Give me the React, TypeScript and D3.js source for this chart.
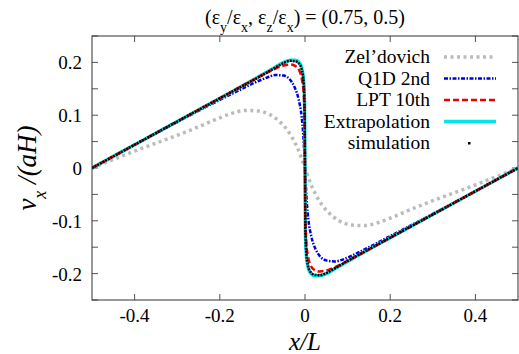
import React from "react";
import * as d3 from "d3";

// ---- data ----
const xTicks = [-0.4, -0.2, 0, 0.2, 0.4];
const yTicks = [-0.2, -0.1, 0, 0.1, 0.2];
const yMinorTicks = [-0.25, -0.2, -0.15, -0.1, -0.05, 0, 0.05, 0.1, 0.15, 0.2, 0.25];

const zelX = [-0.5, -0.45, -0.4, -0.35, -0.3, -0.25, -0.2, -0.17, -0.14, -0.11, -0.08, -0.06, -0.04, -0.025, -0.012, 0, 0.012, 0.025, 0.04, 0.06, 0.08, 0.11, 0.14, 0.17, 0.2, 0.25, 0.3, 0.35, 0.4, 0.45, 0.5];
const zelV = [0, 0.016, 0.032, 0.047, 0.062, 0.078, 0.095, 0.104, 0.109, 0.108, 0.1, 0.088, 0.07, 0.05, 0.027, 0, -0.027, -0.05, -0.07, -0.088, -0.1, -0.108, -0.109, -0.104, -0.095, -0.078, -0.062, -0.047, -0.032, -0.016, 0];

const q1dX = [-0.5, -0.4, -0.3, -0.2, -0.15, -0.12, -0.09, -0.07, -0.05, -0.035, -0.025, -0.015, -0.008, -0.004, 0, 0.004, 0.008, 0.015, 0.025, 0.035, 0.05, 0.07, 0.09, 0.12, 0.15, 0.2, 0.3, 0.4, 0.5];
const q1dV = [0, 0.044, 0.087, 0.129, 0.149, 0.161, 0.171, 0.176, 0.175, 0.167, 0.154, 0.13, 0.098, 0.062, 0, -0.062, -0.098, -0.13, -0.154, -0.167, -0.175, -0.177, -0.173, -0.162, -0.15, -0.129, -0.087, -0.044, 0];

const lptX = [-0.5, -0.4, -0.3, -0.2, -0.1, -0.07, -0.05, -0.035, -0.022, -0.013, -0.007, -0.003, -0.001, 0, 0.001, 0.003, 0.007, 0.013, 0.022, 0.035, 0.05, 0.07, 0.1, 0.2, 0.3, 0.4, 0.5];
const lptV = [0, 0.044, 0.088, 0.132, 0.176, 0.188, 0.194, 0.196, 0.193, 0.184, 0.167, 0.14, 0.1, 0, -0.1, -0.14, -0.167, -0.184, -0.193, -0.196, -0.194, -0.188, -0.176, -0.132, -0.088, -0.044, 0];

const extX = [-0.5, -0.4, -0.3, -0.2, -0.1, -0.07, -0.05, -0.035, -0.022, -0.013, -0.007, -0.003, -0.001, 0, 0.001, 0.003, 0.007, 0.013, 0.022, 0.035, 0.05, 0.07, 0.1, 0.2, 0.3, 0.4, 0.5];
const extV = [0, 0.044, 0.088, 0.132, 0.177, 0.191, 0.2, 0.204, 0.204, 0.199, 0.187, 0.163, 0.12, 0, -0.12, -0.163, -0.187, -0.199, -0.204, -0.204, -0.2, -0.191, -0.177, -0.132, -0.088, -0.044, 0];

const simX = [-0.5, -0.4, -0.3, -0.2, -0.1, -0.07, -0.05, -0.035, -0.022, -0.013, -0.007, -0.003, -0.001, 0, 0.001, 0.003, 0.007, 0.013, 0.022, 0.035, 0.05, 0.07, 0.1, 0.2, 0.3, 0.4, 0.5];
const simV = [0, 0.044, 0.088, 0.132, 0.176, 0.19, 0.199, 0.203, 0.202, 0.197, 0.185, 0.16, 0.118, 0, -0.118, -0.16, -0.185, -0.197, -0.202, -0.203, -0.199, -0.19, -0.176, -0.132, -0.088, -0.044, 0];

const legendLabels = ["Zel\u2019dovich", "Q1D 2nd", "LPT 10th", "Extrapolation", "simulation"];

const W = 519, H = 354;
const M = { left: 92, right: 518, top: 36, bottom: 300 };

export default function App() {
  const x = d3.scaleLinear().domain([-0.5, 0.5]).range([M.left, M.right]);
  const y = d3.scaleLinear().domain([-0.25, 0.25]).range([M.bottom, M.top]);
  const line = d3
    .line<[number, number]>()
    .x((d) => x(d[0]))
    .y((d) => y(d[1]))
    .curve(d3.curveMonotoneX);
  const zip = (a: number[], b: number[]) => a.map((v, i) => [v, b[i]] as [number, number]);

  const styles = [
    { stroke: "#bbbbbb", width: 3.5, dash: "3 3.5" },
    { stroke: "#0000dd", width: 2.5, dash: "4 1.5 1.5 1.5" },
    { stroke: "#ee0000", width: 2.5, dash: "6 3" },
    { stroke: "#00e5ee", width: 3.5, dash: "" },
    { stroke: "#000000", width: 2.5, dash: "2 1" },
  ];

  const legY0 = 57;
  const legDy = 21.5;
  const fmt = (t: number) => (t === 0 ? "0" : d3.format(".1f")(t).replace("\u2212", "-"));
  const ff = "Liberation Serif";

  return (
    <svg width={W} height={H} style={{ position: "absolute", left: 0, top: 0 }}>
      <text x={305} y={24} textAnchor="middle" fontSize={20} style={{ fontFamily: `"${ff}"` }}>
        (ε<tspan baselineShift="sub" fontSize={14}>y</tspan>/ε<tspan baselineShift="sub" fontSize={14}>x</tspan>, ε<tspan baselineShift="sub" fontSize={14}>z</tspan>/ε<tspan baselineShift="sub" fontSize={14}>x</tspan>) = (0.75, 0.5)
      </text>

      <defs>
        <clipPath id="plotclip">
          <rect x={M.left} y={M.top} width={M.right - M.left} height={M.bottom - M.top} />
        </clipPath>
      </defs>

      {/* ticks */}
      {xTicks.map((t) => (
        <g key={"xt" + t}>
          <line x1={x(t)} x2={x(t)} y1={M.bottom} y2={M.bottom - 6} stroke="#555" strokeWidth={1} />
          <line x1={x(t)} x2={x(t)} y1={M.top} y2={M.top + 6} stroke="#555" strokeWidth={1} />
          <text x={x(t)} y={M.bottom + 22} textAnchor="middle" fontSize={19} style={{ fontFamily: `"${ff}"` }}>
            {fmt(t)}
          </text>
        </g>
      ))}
      {yMinorTicks.map((t) => (
        <g key={"ym" + t}>
          <line x1={M.left} x2={M.left + 6} y1={y(t)} y2={y(t)} stroke="#555" strokeWidth={1} />
          <line x1={M.right} x2={M.right - 6} y1={y(t)} y2={y(t)} stroke="#555" strokeWidth={1} />
        </g>
      ))}
      {yTicks.map((t) => (
        <text key={"yt" + t} x={M.left - 10} y={y(t) + 7} textAnchor="end" fontSize={19} style={{ fontFamily: `"${ff}"` }}>
          {fmt(t)}
        </text>
      ))}

      {/* curves */}
      <g clipPath="url(#plotclip)" fill="none">
        <path d={line(zip(zelX, zelV)) || ""} stroke={styles[0].stroke} strokeWidth={styles[0].width} strokeDasharray={styles[0].dash} />
        <path d={line(zip(q1dX, q1dV)) || ""} stroke={styles[1].stroke} strokeWidth={styles[1].width} strokeDasharray={styles[1].dash} />
        <path d={line(zip(extX, extV)) || ""} stroke={styles[3].stroke} strokeWidth={styles[3].width} />
        <path d={line(zip(lptX, lptV)) || ""} stroke={styles[2].stroke} strokeWidth={styles[2].width} strokeDasharray={styles[2].dash} />
        <path d={line(zip(simX, simV)) || ""} stroke={styles[4].stroke} strokeWidth={styles[4].width} strokeDasharray={styles[4].dash} />
      </g>

      {/* frame */}
      <rect x={M.left} y={M.top} width={M.right - M.left} height={M.bottom - M.top} fill="none" stroke="#333" strokeWidth={1} />

      {/* legend */}
      {legendLabels.map((lab, i) => {
        const ly = legY0 + i * legDy;
        const s = styles[i];
        return (
          <g key={lab}>
            <text x={430} y={ly + 6} textAnchor="end" fontSize={19.5} style={{ fontFamily: `"${ff}"` }}>
              {lab}
            </text>
            {i < 4 ? (
              <line x1={444} x2={496} y1={ly} y2={ly} stroke={s.stroke} strokeWidth={s.width} strokeDasharray={s.dash} />
            ) : (
              <rect x={468} y={ly - 1} width={2.5} height={2.5} fill="#000" />
            )}
          </g>
        );
      })}

      {/* axis labels */}
      <text transform={`translate(36, ${(M.top + M.bottom) / 2}) rotate(-90)`} textAnchor="middle" fontSize={27} fontStyle="italic" style={{ fontFamily: `"${ff}"` }}>
        v<tspan baselineShift="sub" fontSize={18}>x</tspan>
        <tspan> /(aH)</tspan>
      </text>
      <text x={305} y={350} textAnchor="middle" fontSize={25} fontStyle="italic" style={{ fontFamily: `"${ff}"` }}>
        x/L
      </text>
    </svg>
  );
}
